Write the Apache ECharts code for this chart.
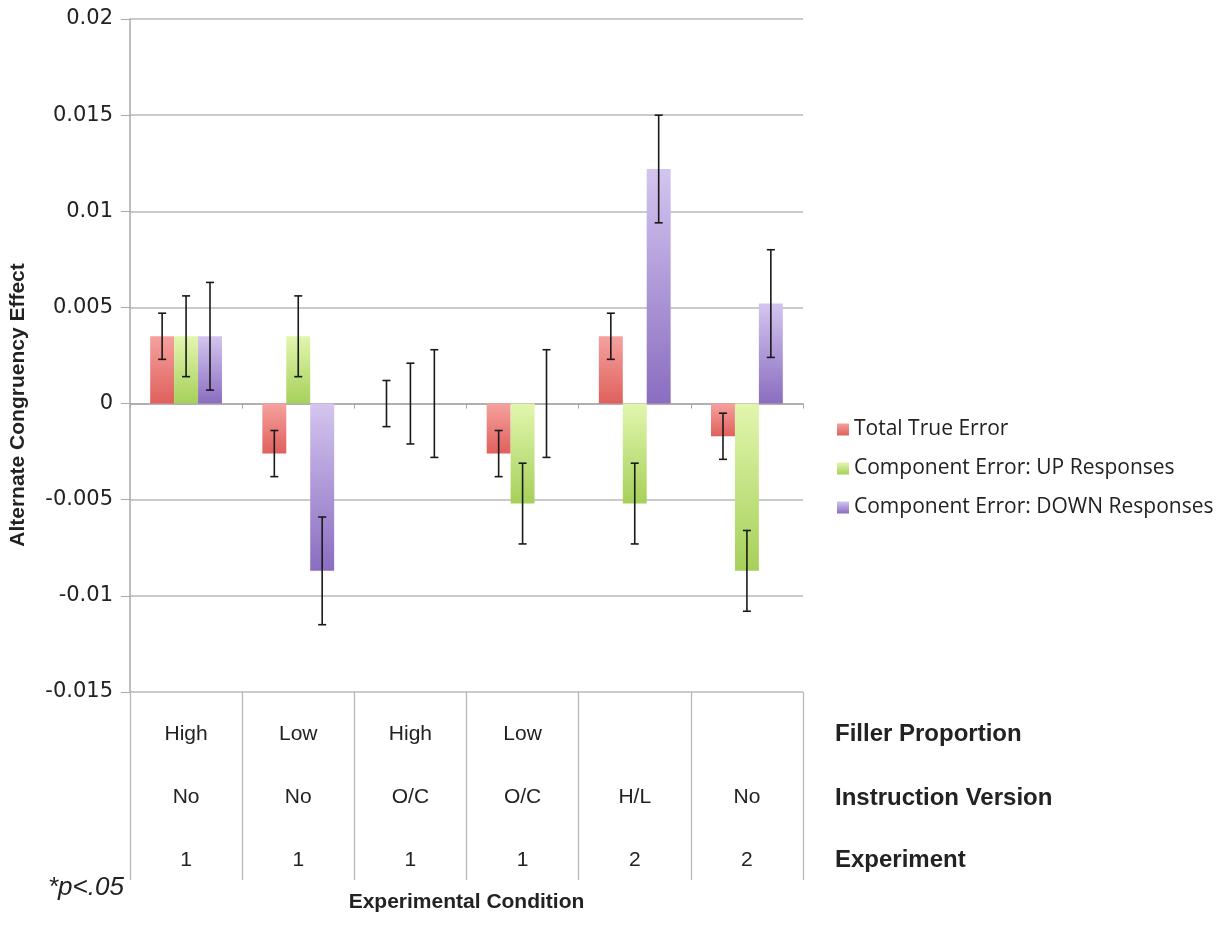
<!DOCTYPE html>
<html>
<head>
<meta charset="utf-8">
<script src="https://cdn.jsdelivr.net/npm/echarts@6/dist/echarts.min.js"></script>
<style>
  html, body { margin: 0; padding: 0; background: #fff; }
  #chart { width: 1225px; height: 929px; }
</style>
</head>
<body>
<div id="chart"></div>
<script>
// table rows under the chart
var fillerRow = ['High', 'Low', 'High', 'Low', '', ''];
var instructionRow = ['No', 'No', 'O/C', 'O/C', 'H/L', 'No'];
var experimentRow = ['1', '1', '1', '1', '2', '2'];
var categories = ['c1', 'c2', 'c3', 'c4', 'c5', 'c6'];

var seriesNames = ['Total True Error', 'Component Error: UP Responses', 'Component Error: DOWN Responses'];
var totalTrue = [0.0035, -0.0026, 0, -0.0026, 0.0035, -0.0017];
var compUp = [0.0035, 0.0035, 0, -0.0052, -0.0052, -0.0087];
var compDown = [0.0035, -0.0087, 0, 0, 0.0122, 0.0052];
// half lengths of error bars
var errTotal = [0.0012, 0.0012, 0.0012, 0.0012, 0.0012, 0.0012];
var errUp = [0.0021, 0.0021, 0.0021, 0.0021, 0.0021, 0.0021];
var errDown = [0.0028, 0.0028, 0.0028, 0.0028, 0.0028, 0.0028];

var yTicks = [-0.015, -0.01, -0.005, 0, 0.005, 0.01, 0.015, 0.02];

var rowTitles = ['Filler Proportion', 'Instruction Version', 'Experiment'];

var gradients = [
    ['#f5a19e', '#df605c'],
    ['#e2f6ae', '#a6d05a'],
    ['#d3c5ef', '#8a6dc0']
];
var catGap = 0.36;

function grad(c) {
    return new echarts.graphic.LinearGradient(0, 0, 0, 1, [
        {offset: 0, color: c[0]},
        {offset: 1, color: c[1]}
    ]);
}

function errData(vals, errs) {
    return vals.map(function (v, i) {
        return [i, v - errs[i], v + errs[i]];
    });
}

// error bars sit on the middle of each bar
function errRender(k) {
    return function (params, api) {
        var band = api.size([1, 0])[0];
        var bw = band * (1 - catGap) / 3;
        var cat = api.value(0);
        var x = api.coord([cat, 0])[0] + (k - 1) * bw;
        var yHi = api.coord([cat, api.value(2)])[1];
        var yLo = api.coord([cat, api.value(1)])[1];
        var cap = 4;
        var st = {stroke: '#1a1a1a', lineWidth: 1.6};
        return {
            type: 'group',
            children: [
                {type: 'line', shape: {x1: x, y1: yHi, x2: x, y2: yLo}, style: st},
                {type: 'line', shape: {x1: x - cap, y1: yHi, x2: x + cap, y2: yHi}, style: st},
                {type: 'line', shape: {x1: x - cap, y1: yLo, x2: x + cap, y2: yLo}, style: st}
            ]
        };
    };
}

var myChart = echarts.init(document.getElementById('chart'));

var values = [totalTrue, compUp, compDown];
var errs = [errTotal, errUp, errDown];
var series = [];
values.forEach(function (v, k) {
    series.push({
        name: seriesNames[k],
        type: 'bar',
        data: v,
        barGap: '0%',
        barCategoryGap: (catGap * 100) + '%',
        itemStyle: {color: grad(gradients[k])},
        emphasis: {disabled: true}
    });
});
errs.forEach(function (e, k) {
    series.push({
        type: 'custom',
        renderItem: errRender(k),
        data: errData(values[k], e),
        encode: {x: 0, y: [1, 2]},
        z: 5,
        silent: true
    });
});

var option = {
    backgroundColor: '#fff',
    animation: false,
    grid: {left: 130, right: 422, top: 19, bottom: 237, outerBoundsMode: 'none'},
    legend: {
        data: seriesNames,
        orient: 'vertical',
        left: 832,
        top: 414,
        itemWidth: 12,
        itemHeight: 12,
        itemGap: 18,
        icon: 'rect',
        textStyle: {fontFamily: 'Open Sans', fontSize: 21, color: '#222'}
    },
    xAxis: [{
        type: 'category',
        data: categories,
        axisLine: {onZero: true, lineStyle: {color: '#a8a8a8', width: 1.5}},
        axisTick: {show: true, length: 5, lineStyle: {color: '#a8a8a8'}},
        axisLabel: {show: false}
    }, {
        type: 'category',
        data: categories,
        position: 'bottom',
        axisLine: {onZero: false, show: false},
        axisTick: {show: true, length: 188, lineStyle: {color: '#b5b5b5', width: 1.2}},
        axisLabel: {
            interval: 0,
            margin: 11,
            lineHeight: 63,
            fontFamily: 'Liberation Sans',
            fontSize: 21,
            color: '#222',
            formatter: function (v, i) {
                return (fillerRow[i] || ' ') + '\n' + instructionRow[i] + '\n' + experimentRow[i];
            }
        },
        name: 'Experimental Condition',
        nameLocation: 'middle',
        nameGap: 200,
        nameMoveOverlap: false,
        nameTextStyle: {fontFamily: 'Liberation Sans', fontWeight: 'bold', fontSize: 21, color: '#222'}
    }],
    yAxis: {
        type: 'value',
        min: yTicks[0],
        max: yTicks[yTicks.length - 1],
        interval: 0.005,
        axisLine: {show: true, lineStyle: {color: '#a8a8a8', width: 1.5}},
        axisTick: {show: true, length: 9, lineStyle: {color: '#a8a8a8'}},
        axisLabel: {
            margin: 17,
            fontFamily: 'DejaVu Sans',
            fontSize: 21,
            color: '#222',
            formatter: function (v) { return String(Number(v.toFixed(3))); }
        },
        splitLine: {lineStyle: {color: '#b8b8b8', width: 1.5}}
    },
    graphic: [
        {type: 'text', x: 18, y: 405, rotation: Math.PI / 2,
            style: {text: 'Alternate Congruency Effect', font: 'bold 21px "Liberation Sans"', fill: '#222', align: 'center', verticalAlign: 'middle'}},
        {type: 'text', left: 835, top: 722, style: {text: rowTitles[0], font: 'bold 24px "Liberation Sans"', fill: '#222'}},
        {type: 'text', left: 835, top: 786, style: {text: rowTitles[1], font: 'bold 24px "Liberation Sans"', fill: '#222'}},
        {type: 'text', left: 835, top: 848, style: {text: rowTitles[2], font: 'bold 24px "Liberation Sans"', fill: '#222'}},
        {type: 'text', left: 48, top: 875, style: {text: '*p<.05', font: 'italic 26px "Liberation Sans"', fill: '#222'}}
    ],
    series: series
};

myChart.setOption(option);
</script>
</body>
</html>
